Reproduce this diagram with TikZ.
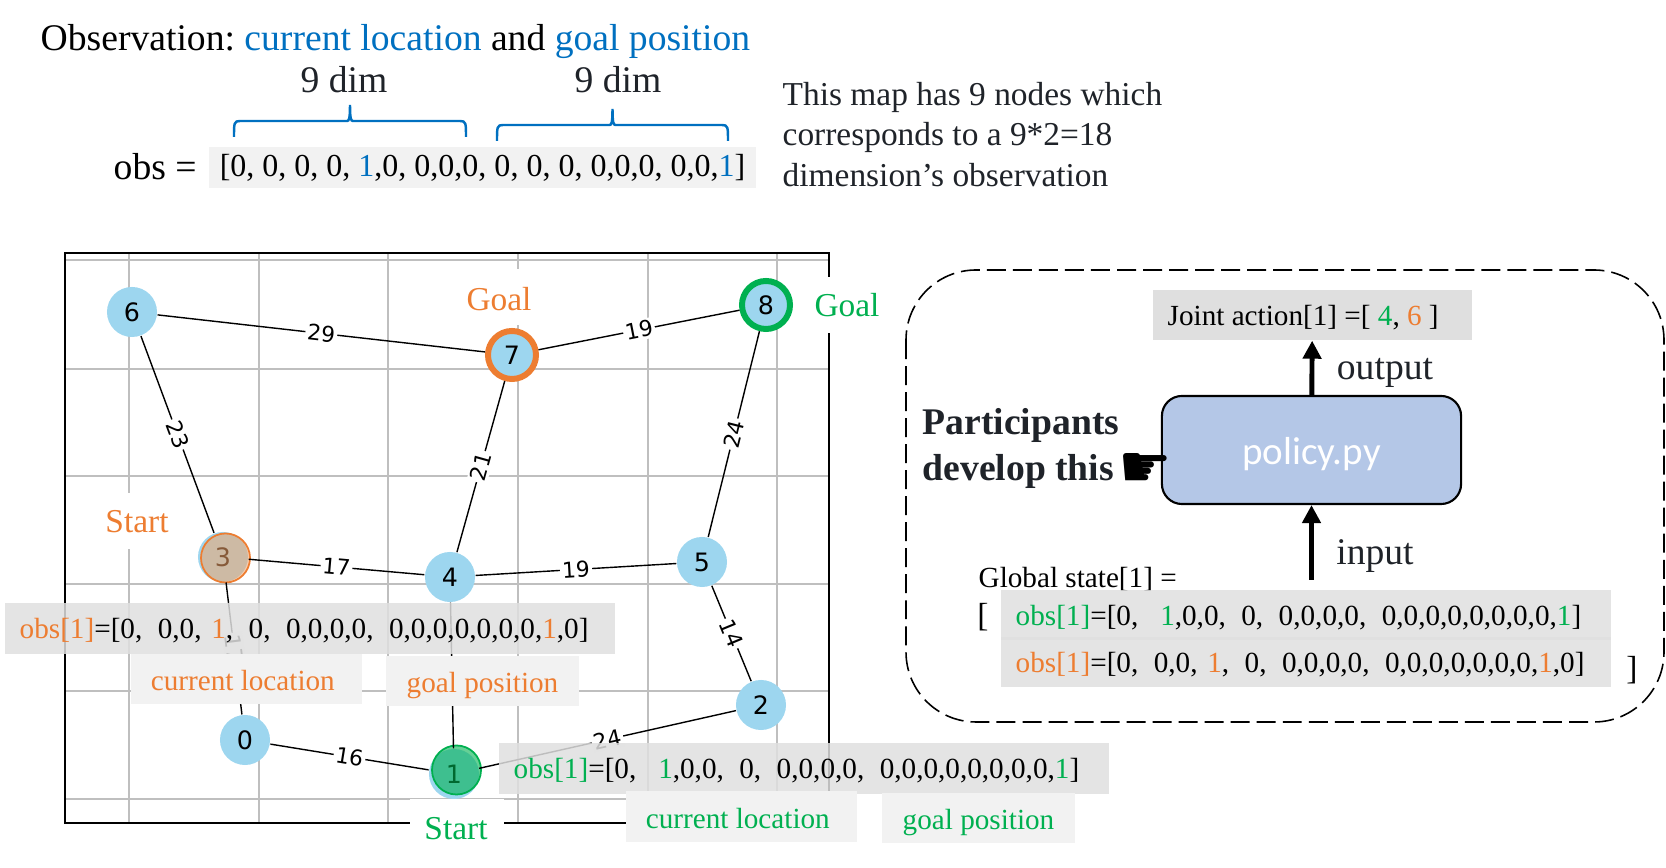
\documentclass[tikz,border=0pt]{standalone}
\usepackage{fontspec}
\setmainfont{Liberation Serif}
\newfontfamily\mapfont{DejaVu Sans}
\newfontfamily\policyfont{Carlito}
\usetikzlibrary{arrows.meta}
\definecolor{lightgray}{rgb}{0.75, 0.75, 0.75}
\definecolor{boxgray}{HTML}{DFDFDF}
\definecolor{palegray}{HTML}{F2F2F2}
\definecolor{nodeblue}{HTML}{9DD6EF}
\definecolor{policyblue}{HTML}{B4C7E7}
\definecolor{obsblue}{HTML}{0070C0}
\definecolor{startorange}{HTML}{ED7D31}
\definecolor{startgreen}{HTML}{00B050}
\definecolor{darktext}{HTML}{1F2329}
\newcommand{\fsbig}{\fontsize{10.7}{12}\selectfont}
\newcommand{\fsmid}{\fontsize{9.5}{11.4}\selectfont}
\newcommand{\fssmall}{\fontsize{8.3}{10}\selectfont}
\newcommand{\org}[1]{\textcolor{startorange}{#1}}
\newcommand{\grn}[1]{\textcolor{startgreen}{#1}}
\newcommand{\dsp}{\hspace{.53em}}
\newcommand{\obsorange}{\org{obs[1]}=[0,\dsp 0,0, \org{1},\dsp 0,\dsp 0,0,0,0,\dsp 0,0,0,0,0,0,0,\org{1},0]}
\newcommand{\obsgreen}{\grn{obs[1]}=[0,\hspace{.75em}\grn{1},0,0,\dsp 0,\dsp 0,0,0,0,\dsp 0,0,0,0,0,0,0,0,\grn{1}]}
\tikzset{
	mapnode/.style={circle, fill=nodeblue, inner sep=0pt, minimum size=.5cm, font=\mapfont\fontsize{7.2}{8}\selectfont},
	ringnode/.style={mapnode, minimum size=.48cm, line width=1.7pt},
	startnode/.style={circle, inner sep=0pt, minimum size=.49cm, line width=.5pt},
	edgelabel/.style={midway, sloped, fill=white, inner sep=.6pt, font=\mapfont\fontsize{6.2}{7}\selectfont},
	obsbox/.style={fill=boxgray, fill opacity=.85, text opacity=1, anchor=west, inner xsep=.15cm, inner ysep=0pt, minimum height=.5cm, text width=5.8cm, text height=6.5pt, text depth=.6pt, align=left, font=\fssmall},
	lblbox/.style={fill=palegray, inner sep=0pt, minimum width=#1, minimum height=.5cm, text height=7.2pt, text depth=.4pt, font=\fssmall},
	blank/.style={fill=white, inner sep=0pt},
	thickarrow/.style={line width=1.4pt, -{Stealth[length=.18cm, width=.18cm, inset=0pt]}}
}
\begin{document}
\frenchspacing
\begin{tikzpicture}[x=.01cm,y=-.01cm]
	\useasboundingbox (0,0) rectangle (1666,868);
	\node[anchor=base west, inner sep=0pt, font=\fsbig] (title) at (40,51) {Observation: \textcolor{obsblue}{current location} and \textcolor{obsblue}{goal position}};
	\node[anchor=base, font=\fsbig, text=darktext] (dima) at (344,93) {9 dim};
	\node[anchor=base, font=\fsbig, text=darktext] (dimb) at (618,93) {9 dim};
	\foreach \a/\b/\y in {234/466/121, 497/728/125}{
		\pgfmathsetmacro{\m}{(\a+\b)/2}
		\draw[obsblue, line width=.7pt] (\a,\y+16) .. controls (\a,\y+2) and (\a,\y) .. (\a+6,\y) -- (\m-3,\y) .. controls (\m-1,\y) and (\m,\y-2) .. (\m,\y-16) .. controls (\m,\y-2) and (\m+1,\y) .. (\m+3,\y) -- (\b-6,\y) .. controls (\b,\y) and (\b,\y+2) .. (\b,\y+16);
	}
	\node[anchor=base west, inner sep=0pt, font=\fsbig] (obseq) at (113,180) {obs =};
	\node[fill=palegray, inner sep=0pt, minimum width=5.47cm, minimum height=.41cm, text height=6pt, text depth=1pt, font=\fontsize{9.1}{10}\selectfont] (obsvec) at (482.5,167.5) {[0, 0, 0, 0, \textcolor{obsblue}{1},0, 0,0,0, 0, 0, 0, 0,0,0, 0,0,\textcolor{obsblue}{1}]};
	\node[anchor=north west, inner sep=0pt, font=\fsmid, text=darktext, align=left] (mapnote) at (782,82) {This map has 9 nodes which\\corresponds to a 9*2=18\\dimension’s observation};

	\foreach \x in {129,259,388,518,648,777}{
		\draw[lightgray, line width=.45pt] (\x,253) -- (\x,823);
	}
	\foreach \y in {260,369,476,584,691,799}{
		\draw[lightgray, line width=.45pt] (65,\y) -- (829,\y);
	}
	\draw[line width=.5pt] (65,253) rectangle (829,823);
	\node[blank, minimum width=.8cm, minimum height=.56cm] (goalbg) at (500,297) {};
	\node[blank, minimum width=.75cm, minimum height=.56cm] (goalgbg) at (852,305) {};
	\node[blank, minimum width=.75cm, minimum height=.55cm] (startbg) at (137,521) {};

	\foreach \name/\x/\y in {0/245/740, 1/454/774, 2/761/705, 3/223/557, 4/450/577, 5/702/562, 6/132/312}{
		\node[mapnode] (n\name) at (\x,\y) {\name};
	}
	\node[ringnode, draw=startorange] (n7) at (512,355) {7};
	\node[ringnode, draw=startgreen] (n8) at (766,305) {8};
	\node[startnode, fill=startgreen, fill opacity=.6, draw=startgreen] (start1) at (456.5,770) {};
	\node[startnode, fill={rgb,255:red,245;green,164;blue,104}, fill opacity=.55, draw=startorange] (start3) at (225.5,558) {};

	\draw (n6) -- (n7) node[edgelabel] {29};
	\draw (n7) -- (n8) node[edgelabel] {19};
	\draw (n6) -- (n3) node[edgelabel] {23};
	\draw (n4) -- (n7) node[edgelabel] {21};
	\draw (n5) -- (n8) node[edgelabel] {24};
	\draw (n3) -- (n4) node[edgelabel] {17};
	\draw (n4) -- (n5) node[edgelabel] {19};
	\draw (n5) -- (n2) node[edgelabel] {14};
	\draw (n0) -- (n3) node[edgelabel] {17};
	\draw (n0) -- (n1) node[edgelabel] {16};
	\draw (n1) -- (n2) node[edgelabel] {24};
	\draw (n4) -- (n1);

	\node[font=\fsmid, text=startorange] (goalo) at (499,299) {Goal};
	\node[font=\fsmid, text=startgreen] (goalg) at (847,305) {Goal};
	\node[font=\fsmid, text=startorange] (starto) at (137,522) {Start};
	\node[blank, minimum width=.94cm, minimum height=.43cm] (startgbg) at (457,820.5) {};
	\node[font=\fsmid, text=startgreen] (startg) at (456,829) {Start};

	\node[obsbox] (obso) at (4,628.5) {\obsorange};
	\node[lblbox=2.31cm, text=startorange] (curo) at (246.5,679) {current location\kern.074cm\relax};
	\node[lblbox=1.93cm, text=startorange] (goalpo) at (482.5,681) {goal position};
	\node[obsbox] (obsg) at (498,768.5) {\obsgreen};
	\node[lblbox=2.31cm, text=startgreen] (curg) at (741.5,816.5) {current location\kern.074cm\relax};
	\node[lblbox=1.93cm, text=startgreen] (goalpg) at (978.5,818) {goal position};

	\draw[dashed, dash pattern=on 5.4pt off 2pt, rounded corners=.7cm, line width=.45pt] (906,270) rectangle (1664,722);
	\node[obsbox, fill opacity=1, text width=2.89cm] (joint) at (1152,315) {\spaceskip=.25em\relax Joint action[1] =[ \grn{4}, \org{6} ]};
	\node[draw, line width=.6pt, fill=policyblue, rounded corners=.2cm, minimum width=2.99cm, minimum height=1.08cm, inner sep=0pt, text=white, text height=8.8pt, text depth=.6pt, font=\policyfont\fontsize{11.1}{13}\selectfont] (policy) at (1311.5,450) {policy.py};
	\draw[thickarrow] (policy) -- (joint);
	\coordinate (gsin) at (1311.5,580);
	\draw[thickarrow] (gsin) -- (policy);
	\node[font=\fsbig, text=darktext] (outlab) at (1385,373) {output};
	\node[font=\fsbig, text=darktext] (inlab) at (1375,556) {input};
	\node[anchor=base west, inner sep=0pt, font=\fontsize{10.7}{12.8}\selectfont\bfseries, text=darktext] (devlab) at (922,435) {Participants};
	\node[anchor=base west, inner sep=0pt, font=\fontsize{10.7}{12.8}\selectfont\bfseries, text=darktext] (devlabb) at (922,481) {develop this};
	\node[inner sep=0pt, font=\mapfont\fontsize{17}{18}\selectfont] (hand) at (1145,471) {☛};

	\node[anchor=west, inner sep=0pt, font=\fssmall] (gstate) at (978,579) {Global state[1] =};
	\node[obsbox] (gobsg) at (1000,615) {\obsgreen};
	\node[obsbox] (gobso) at (1000,662) {\obsorange};
	\node[inner sep=0pt, font=\fsmid] (lbrack) at (983,617) {[};
	\node[inner sep=0pt, font=\fsmid] (rbrack) at (1632,670) {]};
\end{tikzpicture}
\end{document}
